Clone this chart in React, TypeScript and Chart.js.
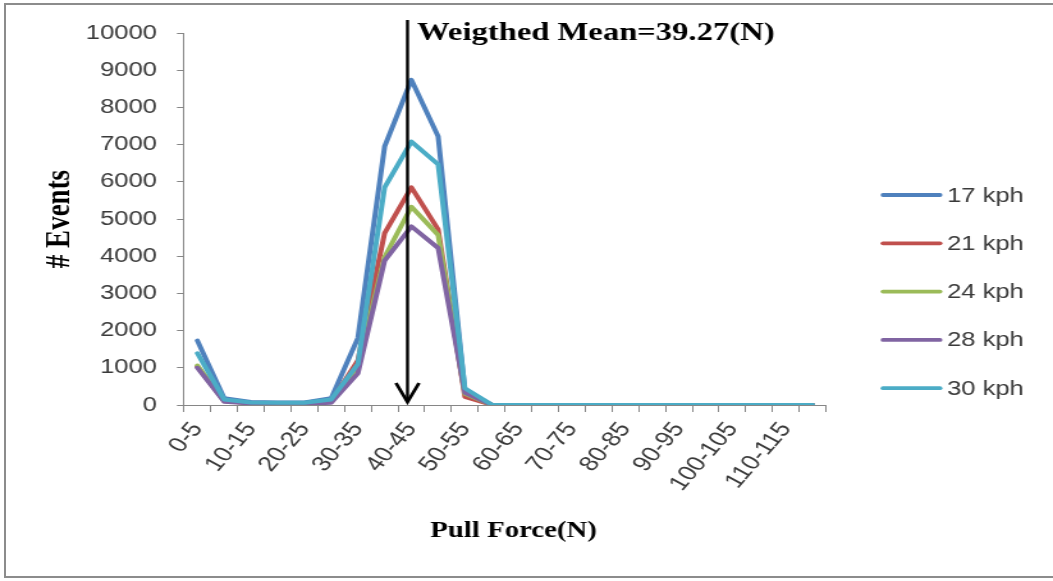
import { useEffect, useRef } from 'react';
import { Chart, registerables } from 'chart.js';

Chart.register(...registerables);

// Pull-force bins (N)
const forceBins = [
  '0-5', '5-10', '10-15', '15-20', '20-25', '25-30', '30-35', '35-40',
  '40-45', '45-50', '50-55', '55-60', '60-65', '65-70', '70-75', '75-80',
  '80-85', '85-90', '90-95', '95-100', '100-105', '105-110', '110-115', '115-120',
];

// Number of events per bin, one series per speed
const events17 = [1730, 180, 80, 70, 70, 180, 1800, 6950, 8740, 7220, 400, 10, 0, 0, 0, 0, 0, 0, 0, 0, 0, 0, 0, 0];
const events21 = [1030, 110, 50, 40, 40, 90, 1200, 4620, 5850, 4720, 220, 5, 0, 0, 0, 0, 0, 0, 0, 0, 0, 0, 0, 0];
const events24 = [1060, 110, 50, 40, 40, 90, 1050, 3980, 5330, 4570, 300, 5, 0, 0, 0, 0, 0, 0, 0, 0, 0, 0, 0, 0];
const events28 = [1000, 90, 40, 30, 30, 60, 850, 3880, 4800, 4220, 330, 5, 0, 0, 0, 0, 0, 0, 0, 0, 0, 0, 0, 0];
const events30 = [1390, 150, 70, 60, 60, 150, 1100, 5850, 7080, 6470, 450, 10, 0, 0, 0, 0, 0, 0, 0, 0, 0, 0, 0, 0];

const seriesNames = ['17 kph', '21 kph', '24 kph', '28 kph', '30 kph'];
const seriesColors = ['#4F81BD', '#C0504D', '#9BBB59', '#8064A2', '#4BACC6'];
const seriesValues = [events17, events21, events24, events28, events30];

const yMin = 0;
const yMax = 10000;
const yStep = 1000;

const weightedMean = 39.27;
const binWidth = 5;
const meanLabel = 'Weigthed Mean=39.27(N)';
const xTitle = 'Pull Force(N)';
const yTitle = '# Events';

// The drawing surface is rendered narrower and widened by CSS
const PAGE_W = 1053;
const PAGE_H = 581;
const CANVAS_W = 823;
const SX = CANVAS_W / PAGE_W;

const SANS = "'Liberation Sans', Arial, sans-serif";
const SERIF = "'Liberation Serif', 'Times New Roman', serif";
const TEXT = '#3a3a3a';
const AXIS = '#868686';

const decorPlugin = {
  id: 'pullForceDecor',
  afterDraw(chart: any) {
    const { ctx, scales } = chart;
    const xs = scales.x;
    const ys = scales.y;
    ctx.save();

    // weighted-mean arrow
    const ax = xs.getPixelForValue(weightedMean / binWidth);
    const tip = ys.getPixelForValue(0) - 3;
    ctx.strokeStyle = '#000';
    ctx.lineWidth = 2.4;
    ctx.beginPath();
    ctx.moveTo(ax, 20);
    ctx.lineTo(ax, tip);
    ctx.stroke();
    ctx.lineWidth = 2.8;
    ctx.lineJoin = 'miter';
    ctx.beginPath();
    ctx.moveTo(ax - 9, tip - 19);
    ctx.lineTo(ax, tip);
    ctx.lineTo(ax + 9, tip - 19);
    ctx.stroke();

    ctx.fillStyle = '#000';
    ctx.font = `bold 25.5px ${SERIF}`;
    ctx.textAlign = 'left';
    ctx.textBaseline = 'alphabetic';
    ctx.fillText(meanLabel, ax + 7.5, 40);

    // axis titles
    ctx.font = `bold 22.5px ${SERIF}`;
    ctx.textAlign = 'center';
    ctx.fillText(xTitle, 513.5 * SX, 537);

    ctx.save();
    ctx.translate(60 * SX, 219);
    ctx.rotate(-Math.PI / 2);
    ctx.font = `bold 27px ${SERIF}`;
    ctx.textBaseline = 'middle';
    ctx.fillText(yTitle, 0, 0);
    ctx.restore();

    // legend
    ctx.font = `20px ${SANS}`;
    ctx.textAlign = 'left';
    ctx.textBaseline = 'middle';
    ctx.lineCap = 'round';
    seriesNames.forEach((name, i) => {
      const ly = 195 + i * 48.3;
      ctx.strokeStyle = seriesColors[i];
      ctx.lineWidth = 3.8;
      ctx.beginPath();
      ctx.moveTo(883 * SX, ly);
      ctx.lineTo(940 * SX, ly);
      ctx.stroke();
      ctx.fillStyle = TEXT;
      ctx.fillText(name, 947 * SX, ly + 1);
    });

    ctx.restore();
  },
};

export default function App() {
  const canvasRef = useRef<HTMLCanvasElement>(null);

  useEffect(() => {
    const canvas = canvasRef.current;
    if (!canvas) return;

    const chart = new Chart(canvas, {
      type: 'line',
      data: {
        labels: forceBins,
        datasets: seriesValues.map((values, i) => ({
          label: seriesNames[i],
          data: values,
          borderColor: seriesColors[i],
          backgroundColor: seriesColors[i],
          borderWidth: 4,
          pointRadius: 0,
          tension: 0,
          borderJoinStyle: 'round' as const,
          borderCapStyle: 'round' as const,
          order: seriesValues.length - 1 - i,
        })),
      },
      options: {
        responsive: false,
        devicePixelRatio: 1,
        animation: false,
        layout: {
          padding: { left: 0, right: CANVAS_W - 826 * SX, top: 33, bottom: 0 },
        },
        plugins: {
          legend: { display: false },
          tooltip: { enabled: false },
          title: { display: false },
        },
        scales: {
          x: {
            type: 'category',
            offset: true,
            grid: {
              offset: true,
              drawOnChartArea: false,
              drawTicks: true,
              tickLength: 7,
              color: AXIS,
            },
            border: { display: true, color: AXIS, width: 1 },
            ticks: {
              autoSkip: false,
              maxRotation: 55,
              minRotation: 55,
              padding: 6,
              color: TEXT,
              font: { family: SANS, size: 21 },
              callback: (_v: any, i: number) => (i % 2 === 0 ? forceBins[i] : ''),
            },
            afterFit: (scale: any) => {
              scale.height = PAGE_H - 405;
            },
          },
          y: {
            min: yMin,
            max: yMax,
            grid: {
              drawOnChartArea: false,
              drawTicks: true,
              tickLength: 5.5,
              color: AXIS,
            },
            border: { display: true, color: AXIS, width: 1 },
            ticks: {
              stepSize: yStep,
              padding: 15.6,
              color: TEXT,
              font: { family: SANS, size: 20 },
              callback: (v: any) => String(v),
            },
            afterFit: (scale: any) => {
              scale.width = 184 * SX;
            },
          },
        },
      },
      plugins: [decorPlugin],
    });

    return () => chart.destroy();
  }, []);

  return (
    <div style={{ position: 'fixed', left: 0, top: 0, width: PAGE_W, height: PAGE_H, background: '#fff', overflow: 'hidden' }}>
      <canvas
        ref={canvasRef}
        width={CANVAS_W}
        height={PAGE_H}
        style={{ position: 'absolute', left: 0, top: 0, width: `${PAGE_W}px`, height: `${PAGE_H}px` }}
      />
      <div
        style={{
          position: 'absolute',
          left: 4,
          top: 3,
          width: PAGE_W + 20,
          height: 575,
          border: '2px solid #8c8c8c',
          boxSizing: 'border-box',
          pointerEvents: 'none',
        }}
      />
    </div>
  );
}
